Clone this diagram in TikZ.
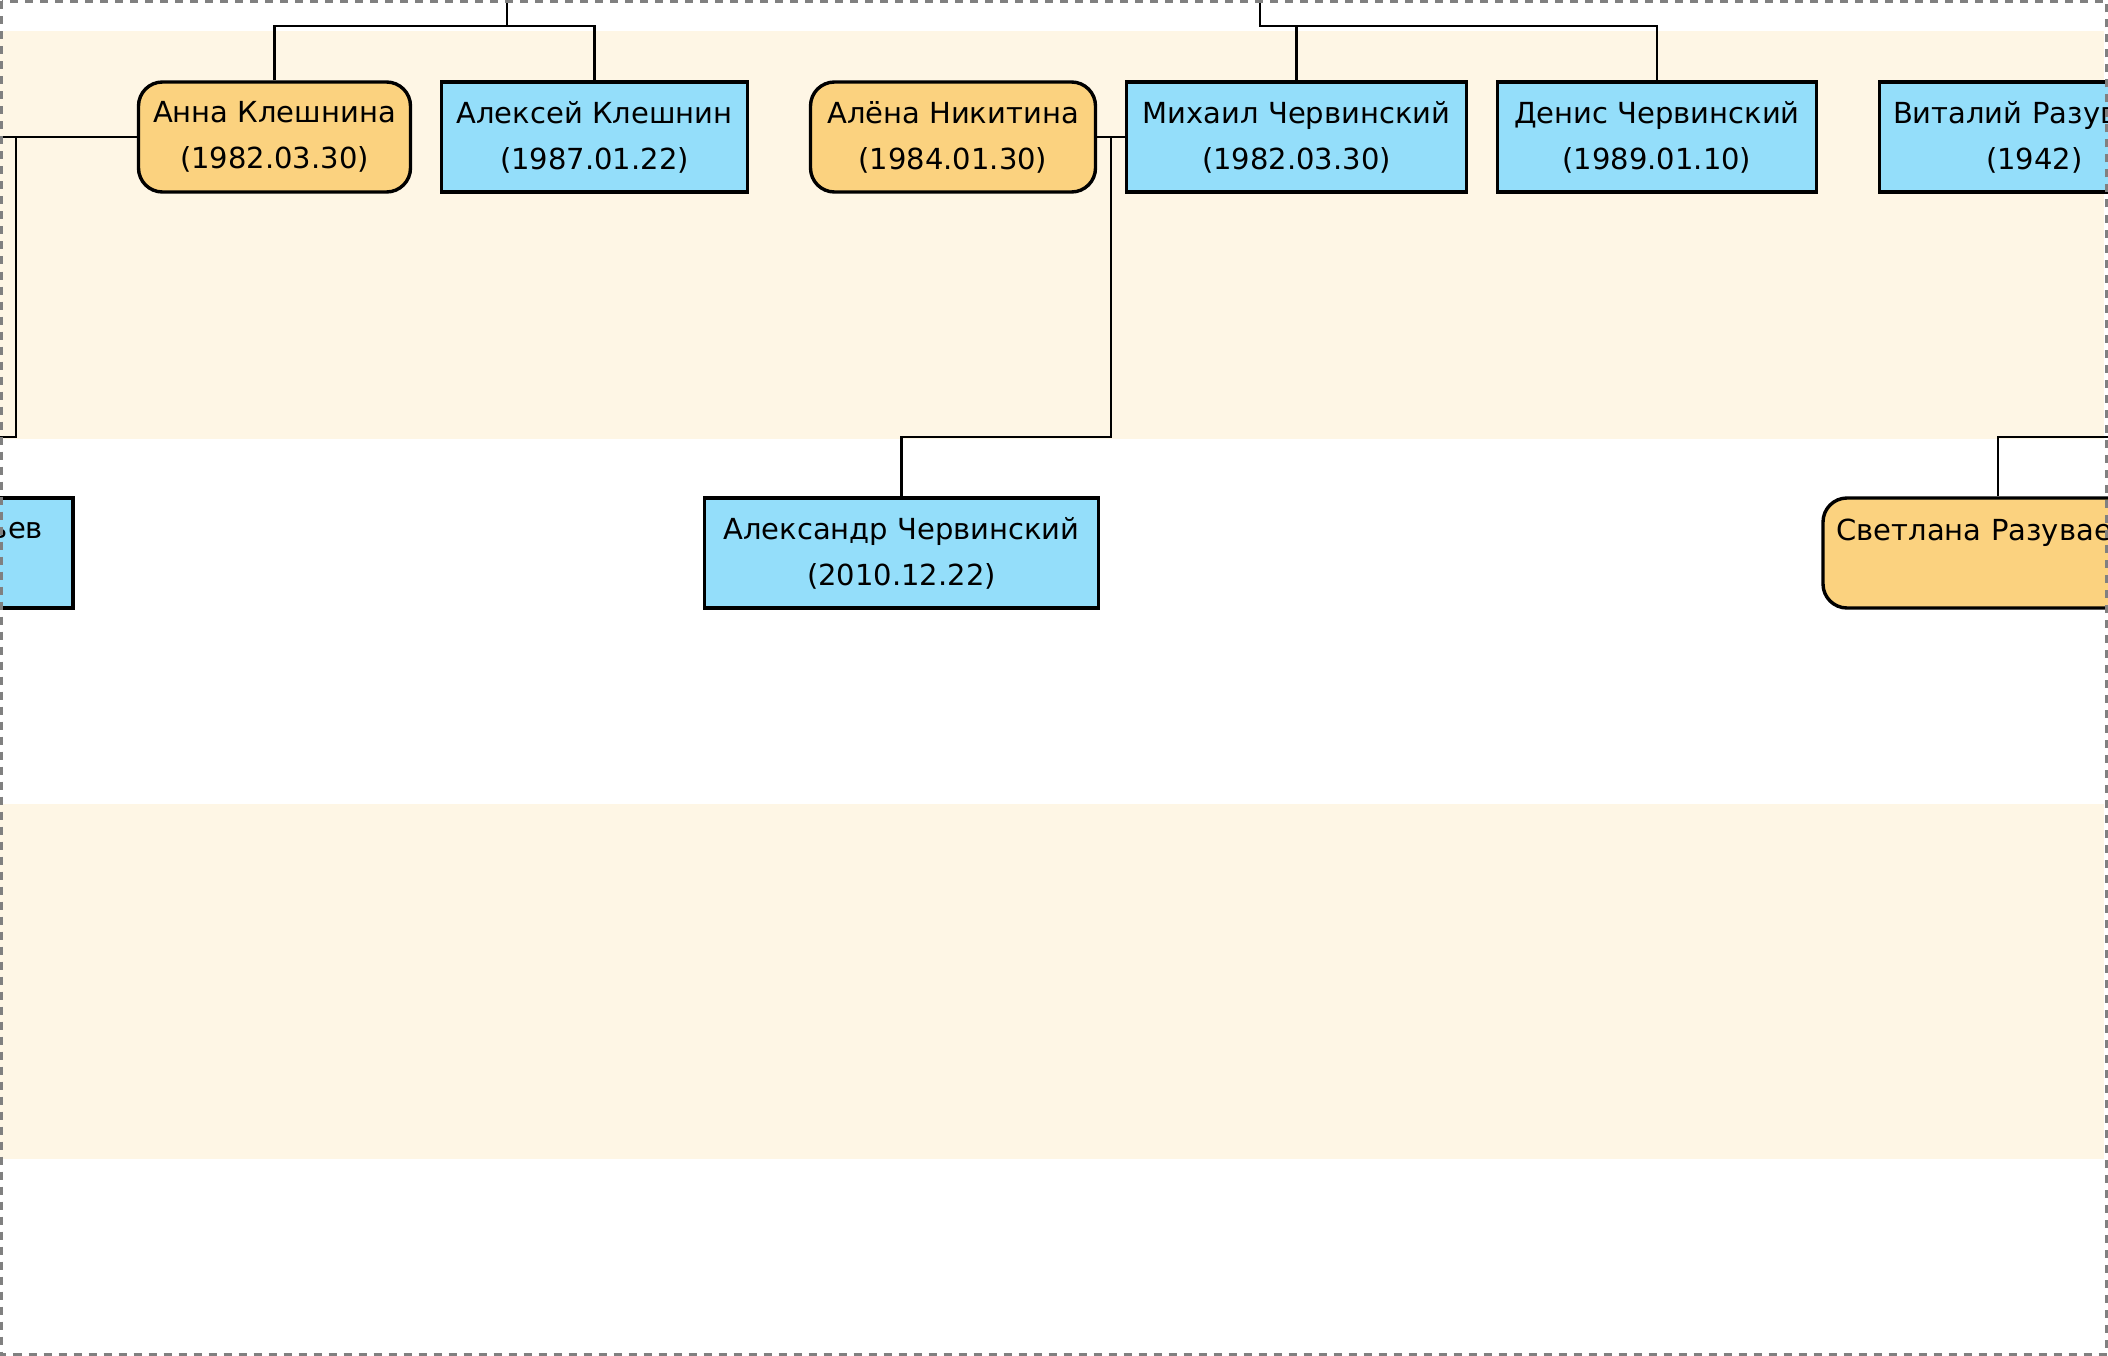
\documentclass[tikz,border=0pt]{standalone}
\usepackage{fontspec}
\setmainfont{DejaVu Sans}
\definecolor{band}{RGB}{254,246,229}
\definecolor{she}{RGB}{251,210,127}
\definecolor{he}{RGB}{148,222,250}
\definecolor{frame}{RGB}{128,128,128}

\begin{document}
\begin{tikzpicture}[x=1pt,y=-1pt,
	person/.style={draw, line width=3.4pt, minimum height=110pt, inner xsep=13.5pt, align=center, font=\fontsize{29}{46}\selectfont},
	male/.style={person, fill=he, minimum width=#1},
	female/.style={person, rounded corners=24pt, fill=she, minimum width=#1},
	link/.style={line width=2.8pt}]
\useasboundingbox (0,0) rectangle (2108,1356);
\clip (0,0) rectangle (2108,1356);
\fill[white] (0,0) rectangle (2108,1356);
\fill[band] (0,31) rectangle (2104,439);
\fill[band] (0,804) rectangle (2104,1159);

\node [female=272pt] (anna) at (274.5,137) {Анна Клешнина\\(1982.03.30)};
\node [male=306pt] (aleks) at (594.5,137) {Алексей Клешнин\\(1987.01.22)};
\node [female=285pt] (alena) at (953,137) {Алёна Никитина\\(1984.01.30)};
\node [male=340pt] (mikh) at (1296.5,137) {Михаил Червинский\\(1982.03.30)};
\node [male=319pt] (denis) at (1657,137) {Денис Червинский\\(1989.01.10)};
\node [male=309pt, text width=282pt, align=left] (vit) at (2034,137) {Виталий Разув\\\hspace*{93pt}(1942)};
\node [male=300pt, text width=240pt, inner xsep=30pt, align=right] (lb) at (-77,553) {ьев\\~};
\node [male=394pt] (sasha) at (901.5,553) {Александр Червинский\\(2010.12.22)};
\node [female=350pt, text width=323pt, align=left] (sveta) at (1998,553) {Светлана Разувае\\~};

\coordinate (p1) at (507,0);
\coordinate (j1) at (507,26);
\draw[link] (p1) -- (j1);
\draw[link] (anna.north) |- (j1) -| (aleks.north);

\coordinate (p2) at (1260,0);
\coordinate (j2) at (1260,26);
\draw[link] (p2) -- (j2) -| (denis.north);
\draw[link] (mikh.north) -- (mikh.north |- j2);

\coordinate (l1) at (0,137);
\coordinate (m1) at (16,137);
\coordinate (l2) at (0,437);
\draw[link] (l1) -- (anna.west);
\draw[link] (m1) |- (l2);

\coordinate (m2) at (1111,137);
\coordinate (k2) at (1111,437);
\draw[link] (alena.east) -- (mikh.west);
\draw[link] (m2) -- (k2) -| (sasha.north);

\coordinate (r1) at (2108,437);
\draw[link] (r1) -| (sveta.north);

\draw[frame, line width=3pt, dash pattern=on 8pt off 7pt] (1.5,1.5) rectangle (2106.5,1354.5);
\end{tikzpicture}
\end{document}
